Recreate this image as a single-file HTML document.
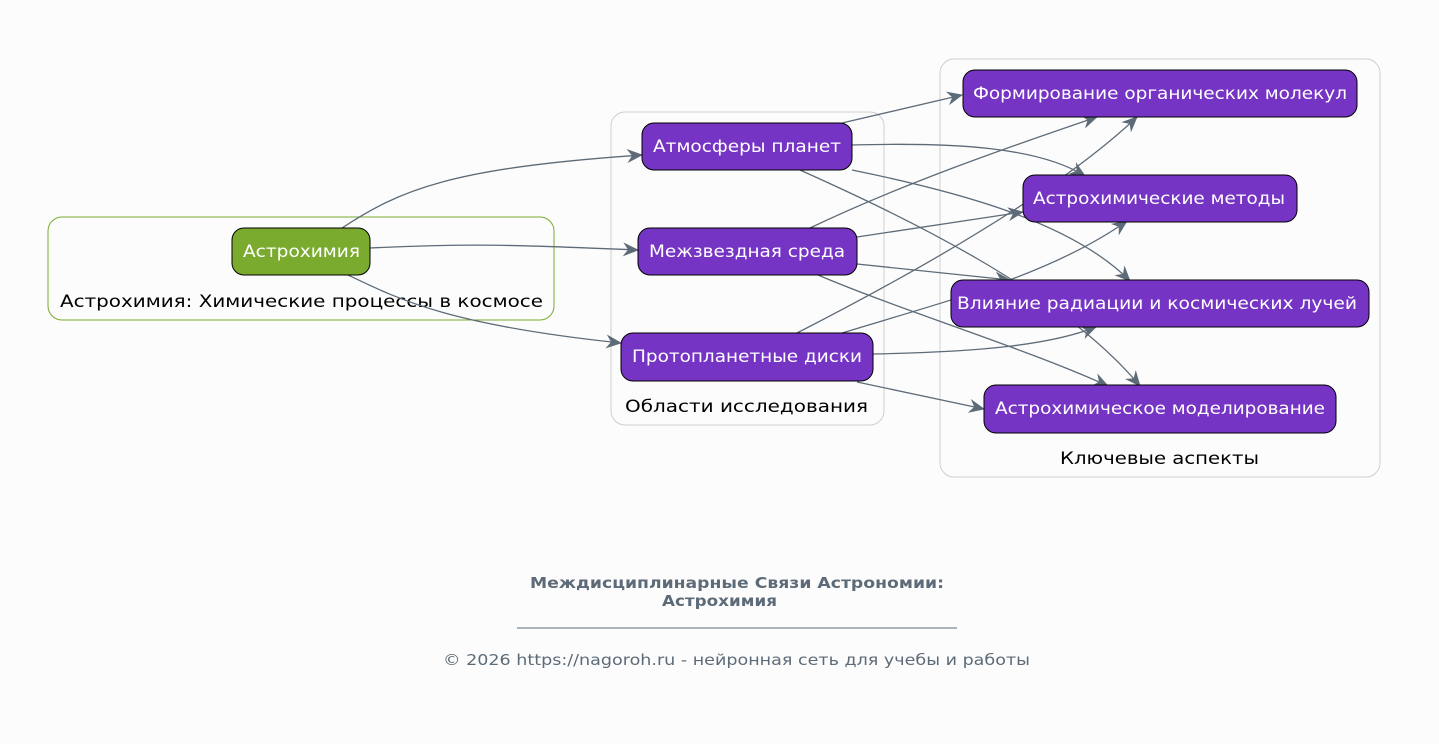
<!DOCTYPE html>
<html><head><meta charset="utf-8"><style>
html,body{margin:0;padding:0;background:#fcfcfc;}
svg{display:block;}
text{font-family:"DejaVu Sans","Liberation Sans",sans-serif;}
</style></head><body>
<svg width="1439" height="744" viewBox="0 0 1439 744" xmlns="http://www.w3.org/2000/svg">
<defs>
<marker id="a" markerWidth="16" markerHeight="14" refX="15" refY="7" orient="auto" markerUnits="userSpaceOnUse">
<path d="M0,0 L16,7 L0,14 L5,7 Z" fill="#5d6b78"/>
</marker>
</defs>
<rect width="1439" height="744" fill="#fcfcfc"/>
<rect x="48" y="217" width="506" height="103" rx="14" fill="none" stroke="#7aab2e" stroke-width="1"/>
<text x="60" y="307" font-size="17" textLength="483" lengthAdjust="spacingAndGlyphs" fill="#000">Астрохимия: Химические процессы в космосе</text>
<rect x="611" y="112" width="273" height="313" rx="14" fill="none" stroke="#cfcfcf" stroke-width="1"/>
<text x="625" y="412" font-size="17" textLength="243" lengthAdjust="spacingAndGlyphs" fill="#000">Области исследования</text>
<rect x="940" y="59" width="440" height="418" rx="14" fill="none" stroke="#cfcfcf" stroke-width="1"/>
<text x="1060" y="464" font-size="17" textLength="199" lengthAdjust="spacingAndGlyphs" fill="#000">Ключевые аспекты</text>
<g fill="none" stroke="#5d6b78" stroke-width="1.3" marker-end="url(#a)">
<path d="M342,228 C400,190 450,168 642,155"/>
<path d="M370,248 C470,243 520,245 638,250"/>
<path d="M348,275 C400,300 450,325 621,343"/>
<path d="M842,123 L962,95"/>
<path d="M852,145 C960,142 1040,148 1085,176"/>
<path d="M852,170 C950,190 1070,220 1130,281"/>
<path d="M800,170 C900,215 1060,290 1140,386"/>
<path d="M810,228 C900,185 1000,150 1097,117"/>
<path d="M857,237 L1023,212"/>
<path d="M857,264 L1010,280"/>
<path d="M818,275 C900,310 1030,350 1108,386"/>
<path d="M797,333 C920,270 1060,190 1137,117"/>
<path d="M842,333 C950,300 1050,275 1127,221"/>
<path d="M873,354 C980,352 1050,345 1096,327"/>
<path d="M857,382 L984,409"/>
</g>
<g stroke="#000" stroke-width="1">
<rect x="232" y="228" width="138" height="47" rx="12" fill="#7aab2e"/>
<rect x="642" y="123" width="210" height="47" rx="12" fill="#7634c4"/>
<rect x="638" y="228" width="219" height="47" rx="12" fill="#7634c4"/>
<rect x="621" y="333" width="252" height="48" rx="12" fill="#7634c4"/>
<rect x="963" y="70" width="394" height="47" rx="12" fill="#7634c4"/>
<rect x="1023" y="175" width="274" height="47" rx="12" fill="#7634c4"/>
<rect x="951" y="280" width="418" height="47" rx="12" fill="#7634c4"/>
<rect x="984" y="385" width="352" height="48" rx="12" fill="#7634c4"/>
</g>
<g fill="#fff" font-size="17" lengthAdjust="spacingAndGlyphs">
<text x="243" y="257" textLength="117" lengthAdjust="spacingAndGlyphs">Астрохимия</text>
<text x="653" y="152" textLength="188" lengthAdjust="spacingAndGlyphs">Атмосферы планет</text>
<text x="649" y="257" textLength="196" lengthAdjust="spacingAndGlyphs">Межзвездная среда</text>
<text x="632" y="362" textLength="230" lengthAdjust="spacingAndGlyphs">Протопланетные диски</text>
<text x="973" y="99" textLength="374" lengthAdjust="spacingAndGlyphs">Формирование органических молекул</text>
<text x="1033" y="204" textLength="252" lengthAdjust="spacingAndGlyphs">Астрохимические методы</text>
<text x="957" y="309" textLength="400" lengthAdjust="spacingAndGlyphs">Влияние радиации и космических лучей</text>
<text x="995" y="414" textLength="330" lengthAdjust="spacingAndGlyphs">Астрохимическое моделирование</text>
</g>
<text x="530" y="588" font-size="15" font-weight="bold" textLength="414" lengthAdjust="spacingAndGlyphs" fill="#5d6b78">Междисциплинарные Связи Астрономии:</text>
<text x="662" y="606" font-size="15" font-weight="bold" textLength="115" lengthAdjust="spacingAndGlyphs" fill="#5d6b78">Астрохимия</text>
<line x1="517" y1="628" x2="957" y2="628" stroke="#5d6b78" stroke-width="1"/>
<text x="443" y="665" font-size="15" textLength="587" lengthAdjust="spacingAndGlyphs" fill="#5d6b78">© 2026 https://nagoroh.ru - нейронная сеть для учебы и работы</text>
</svg>
</body></html>
